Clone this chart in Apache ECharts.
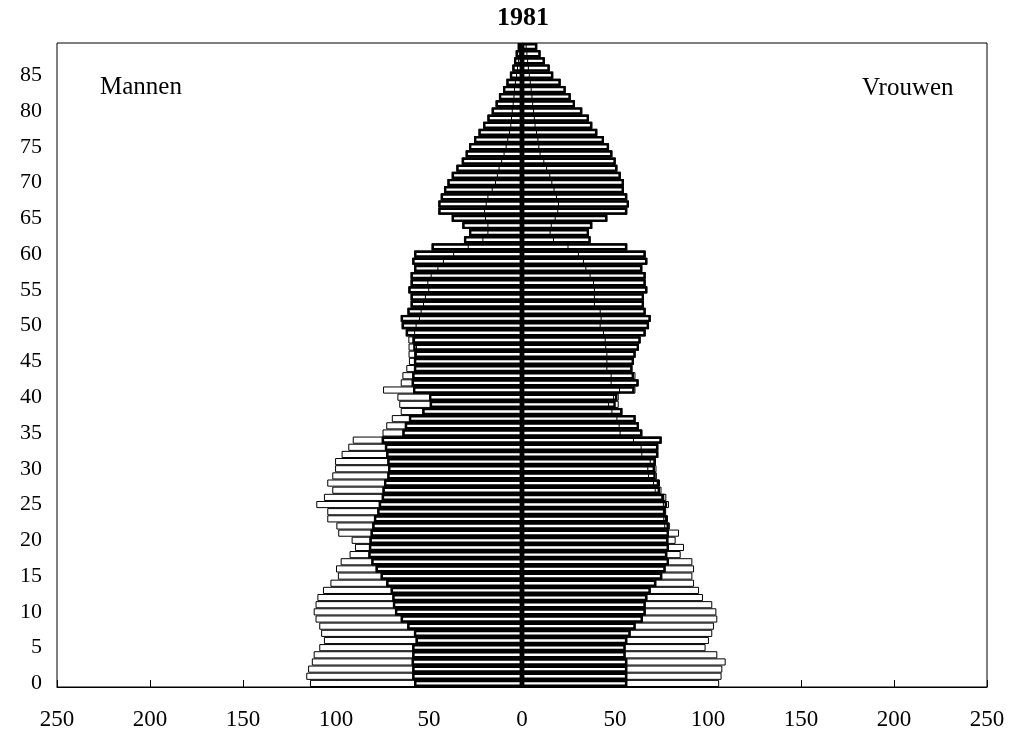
<!DOCTYPE html>
<html>
<head>
<meta charset="utf-8">
<script src="https://cdn.jsdelivr.net/npm/echarts/dist/echarts.min.js"></script>
<style>
    html, body { margin: 0; padding: 0; background: #fff; }
    #main { width: 1011px; height: 742px; }
</style>
</head>
<body>
<div id="main"></div>
<script>
    // leeftijden (categorieen)
    var ages = ['0','1','2','3','4','5','6','7','8','9','10','11','12','13','14','15','16','17','18','19',
        '20','21','22','23','24','25','26','27','28','29','30','31','32','33','34','35','36','37','38','39',
        '40','41','42','43','44','45','46','47','48','49','50','51','52','53','54','55','56','57','58','59',
        '60','61','62','63','64','65','66','67','68','69','70','71','72','73','74','75','76','77','78','79',
        '80','81','82','83','84','85','86','87','88','89'];

    // Mannen: buitenste (dunne) balk, dikke balk, binnenste lijn
    var menTotal = [114,116,115,113,112,109,106.5,108,109,111,112,111,110,107,103,99,100,97.5,92.7,89.8,
        91.6,98.8,99.8,104.7,104.7,110.6,106.5,102,104.7,102,100.5,100.5,97,93.4,91,75,73,70,65.2,66,
        67,74.7,65.2,64.3,62.2,60.8,61,61,61.1,62.5,64.7,65.2,61.6,59.9,59.9,61.1,59.9,59.9,58,59,
        58,48.6,31.2,28.5,32.1,37.8,45,45,43.7,41.9,40.1,37.8,35.3,32.4,30.3,28.5,25.8,23.4,20.9,18.6,
        16.3,14.2,12.4,10.2,8.4,6.5,5.2,4.3,3.4,2.3];
    var menThick = [58,59,59,59.3,59,59,57.2,58.1,61.7,65.2,68.3,69.4,69.7,70.6,73,76,78.7,81,82.6,82.3,
        82,81.4,80.5,79.6,77.8,77,75.4,75,74.2,72.4,72,72.4,73,73.7,75.4,64.3,63,60.8,53.6,49.6,
        50,58.6,59.3,59,58.1,58.1,58,58.5,59,62.5,64.7,65.2,61.6,59.9,59.9,61.1,59.9,59.9,58,59,
        58,48.6,31.2,28.5,32.1,37.8,45,45,43.7,41.9,40.1,37.8,35.3,32.4,30.3,28.5,25.8,23.4,20.9,18.6,
        16.3,14.2,12.4,10.2,8.4,6.5,5.2,4.3,3.4,2.3];
    var menInner = [58,59,59,59.3,59,59,57.2,58.1,61.7,65.2,68.3,69.4,69.7,70.6,73,76,78.7,81,82.6,82.3,
        82,81.4,80.5,79.6,77.8,77,75.4,75,74.2,72.4,72,72.4,73,73.7,75.4,64.3,63,60.8,53.6,49.6,
        50,58.6,59.3,59,58.1,58.1,57,57,58,58,57.2,55.4,54.5,53.2,52.2,50.4,50.9,49.1,45.5,42.5,
        37,29.2,21.3,18.6,18.6,19.9,20.4,19.5,18.6,16.3,14.5,13.5,12.6,11.2,9.9,8.8,7.9,7,6.3,5.9,
        5.5,5,4.6,4.3,3.8,3.2,2.7,2.2,1.7,1.1];

    // Vrouwen
    var womenTotal = [106,107.3,107.7,109.5,105,98.7,100.5,102.3,103.2,105,104.5,102.3,97.3,95.2,92.5,91.6,92.5,91.6,85.3,87.1,
        82.6,84.4,79.5,78.5,77.5,79,77.6,75,74.2,72.5,72.3,72,73.3,73.3,75.1,64.7,62.9,61.1,54,52,
        52,61,62.7,61,59.4,60.2,61.1,62.9,63.8,66.5,68.3,69.2,66.5,65.6,65.6,67.4,66.5,66.5,64.7,67.4,
        66.5,56.6,36.9,36,37.8,45.9,56.6,57.5,56.6,54.8,54.8,53.1,51.3,50.4,48.6,46.8,44.1,40.5,37.8,36,
        32.4,28.5,26.2,23.5,20.8,16.8,14.9,12.3,10,8.2];
    var womenThick = [56.6,56.6,56.6,56.6,55.7,55.7,56.6,58.4,61.1,65,66.5,66.5,67.4,69.2,72.2,75.4,77.2,79,78.1,79,
        78.7,79,79,78.1,77.2,78,76.5,74.2,73.7,71.9,71.5,71.9,73.3,73.3,75.1,64.7,62.9,61.1,54,50.4,
        51.3,60.5,62.7,60.2,59.4,60.2,61.1,62.9,63.8,66.5,68.3,69.2,66.5,65.6,65.6,67.4,66.5,66.5,64.7,67.4,
        66.5,56.6,36.9,36,37.8,45.9,56.6,57.5,56.6,54.8,54.8,53.1,51.3,50.4,48.6,46.8,44.1,40.5,37.8,36,
        32.4,28.5,26.2,23.5,20.8,16.8,14.9,12.3,10,8.2];
    var womenInner = [56.6,56.6,56.6,56.6,55.7,55.7,56.6,58.4,61.1,65,66.5,66.5,67.4,69.2,72.2,75.4,77.2,79,78.1,79,
        78.7,79,77,76.5,76.3,76.3,75.4,71.9,71,68.3,67.9,69.2,64.7,64.3,60.2,53,52.5,51.3,48.6,46.8,
        49.5,52.7,48.2,48.2,45.9,45.9,45.9,45.3,45,44.1,42.3,42.8,42.3,39.2,39.2,39.2,38.7,36.9,34.6,33.3,
        30.6,25,17.2,15.4,16,18.1,19.5,19.9,18.8,17.5,16.3,15.2,13.5,12,10,9.3,8.8,8.1,7.3,6.9,
        6.5,6,5.6,5.2,4.7,4.2,3.7,3.3,2.9,2.5];

    var xTicks = [-250, -200, -150, -100, -50, 0, 50, 100, 150, 200, 250];

    var serif = 'Liberation Serif';

    function neg(arr) {
        return arr.map(function (v) { return -v; });
    }

    function barSeries(name, data, lineWidth, fill, z) {
        return {
            name: name,
            type: 'bar',
            data: data,
            barGap: '-100%',
            barCategoryGap: '0%',
            z: z,
            silent: true,
            itemStyle: {
                color: fill,
                borderColor: '#000',
                borderWidth: lineWidth
            }
        };
    }

    var myChart = echarts.init(document.getElementById('main'));

    var centerLine = barSeries('vrouwen binnen', womenInner, 1, 'rgba(0,0,0,0)', 4);
    centerLine.markLine = {
        silent: true,
        symbol: 'none',
        label: { show: false },
        lineStyle: { color: '#000', width: 3, type: 'solid' },
        data: [{ xAxis: 0 }]
    };

    var option = {
        backgroundColor: '#fff',
        animation: false,
        grid: {
            left: 57,
            right: 24,
            top: 43,
            bottom: 55,
            show: true,
            borderColor: '#000',
            borderWidth: 1
        },
        xAxis: {
            type: 'value',
            min: xTicks[0],
            max: xTicks[xTicks.length - 1],
            interval: 50,
            axisLine: { show: true, lineStyle: { color: '#000', width: 1 } },
            axisTick: { show: true, inside: true, length: 7, lineStyle: { color: '#000' } },
            splitLine: { show: false },
            axisLabel: {
                color: '#000',
                fontFamily: serif,
                fontSize: 23,
                margin: 21,
                formatter: function (v) { return Math.abs(v); }
            }
        },
        yAxis: {
            type: 'category',
            data: ages,
            axisLine: { show: true, lineStyle: { color: '#000' } },
            axisTick: { show: false },
            splitLine: { show: false },
            axisLabel: {
                interval: 4,
                color: '#000',
                fontFamily: serif,
                fontSize: 22,
                margin: 15
            }
        },
        graphic: [
            {
                type: 'text', x: 523, y: 18,
                style: { text: '1981', fontFamily: serif, fontWeight: 'bold', fontSize: 26, fill: '#000',
                    textAlign: 'center', textVerticalAlign: 'middle' }
            },
            {
                type: 'text', x: 100, y: 87,
                style: { text: 'Mannen', fontFamily: serif, fontSize: 25, fill: '#000', textVerticalAlign: 'middle' }
            },
            {
                type: 'text', x: 862, y: 88,
                style: { text: 'Vrouwen', fontFamily: serif, fontSize: 25, fill: '#000', textVerticalAlign: 'middle' }
            }
        ],
        series: [
            barSeries('mannen totaal', neg(menTotal), 1, '#fff', 2),
            barSeries('vrouwen totaal', womenTotal, 1, '#fff', 2),
            barSeries('mannen dik', neg(menThick), 2.4, '#fff', 3),
            barSeries('vrouwen dik', womenThick, 2.4, '#fff', 3),
            barSeries('mannen binnen', neg(menInner), 1, 'rgba(0,0,0,0)', 4),
            centerLine
        ]
    };

    myChart.setOption(option);
</script>
</body>
</html>
